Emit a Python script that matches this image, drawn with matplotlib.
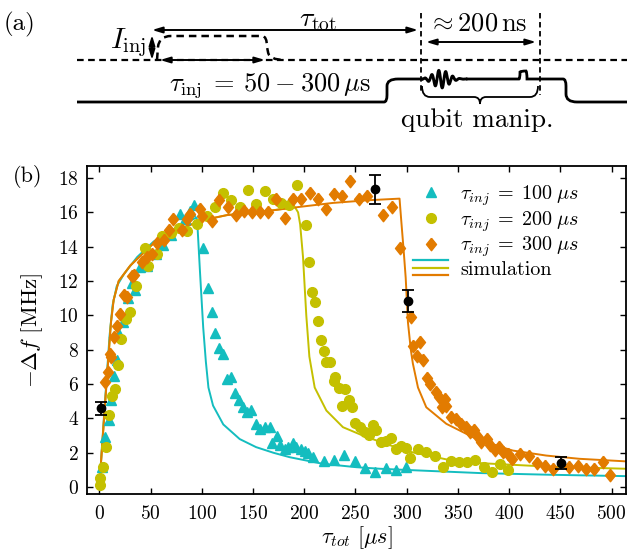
import numpy as np
import matplotlib
matplotlib.use("Agg")
import matplotlib.pyplot as plt
from matplotlib.path import Path
from matplotlib.patches import PathPatch
from matplotlib.lines import Line2D
from matplotlib.legend_handler import HandlerBase

plt.rcParams["font.family"] = "serif"
plt.rcParams["font.serif"] = ["cmr10"]
plt.rcParams["mathtext.fontset"] = "cm"
plt.rcParams["axes.formatter.use_mathtext"] = True

CYAN = "#14bdbf"
YELLOW = "#c4c000"
ORANGE = "#e27b00"
DIAMOND = [(0, 1), (0.8, 0), (0, -1), (-0.8, 0), (0, 1)]

# measured frequency shift, tau_inj = 100 us
t100 = [2.6, 5.8, 9.2, 11.4, 14.6, 17.3, 19.5, 23.4, 28.3, 31.6, 34.8, 40, 47, 55, 62, 70, 78.7, 84, 88.4, 92,
        101.4, 105.6, 109.5, 112.8, 116.9, 120.9, 124.8, 129, 132.9, 136.5, 140.4, 144.3, 148.5, 153.4, 157.3,
        161.5, 166.4, 169, 173.5, 176.1, 181, 184.2, 189, 192.4, 197.3, 200.5, 203.7, 208.6, 219.3, 229, 238.8,
        249.2, 259, 268.7, 279.4, 289.2, 299]
df100 = [1.2, 2.9, 3.9, 5.1, 6.5, 7.4, 8.9, 9.6, 11.0, 11.9, 11.5, 12.8, 12.9, 13.6, 14.1, 14.7, 15.9, 15.6, 16.1, 16.4,
         13.9, 11.6, 10.2, 8.95, 8.1, 7.75, 6.3, 6.4, 5.5, 5.1, 4.65, 4.36, 4.5, 3.7, 3.4,
         3.5, 3.5, 2.56, 3.0, 2.46, 2.23, 2.33, 2.56, 2.33, 2.23, 2.1, 1.98, 1.78, 1.55, 1.6, 1.88,
         1.55, 1.13, 0.87, 1.1, 1.0, 1.15]

# tau_inj = 200 us
t200 = [0.4, 0.4, 3.3, 6.8, 9.7, 12.4, 15.6, 18.2, 21.4, 26.3, 29.6, 36, 44.8, 48, 56.2, 61.1, 70, 77.4, 85.5, 95.2,
        105.3, 112.8, 120.9, 129, 137.1, 145.2, 153.4, 161.5, 169.6, 177.8, 185.2, 193, 201.5, 204.4, 207.6, 210.2,
        213.5, 216.8, 219.3, 221.6, 224.8, 229, 230.4, 233.9, 237.2, 239.5, 243.4, 246.6, 249.2, 254.1, 259, 262.9,
        267.1, 270.4, 275.2, 280.1, 285, 289.9, 294.7, 299.6, 302.8, 311, 319.1, 327.2, 335.3, 342.8, 351, 358.7,
        366.8, 375.2, 383, 391.2, 399.3]
df200 = [0.14, 0.55, 1.16, 2.33, 4.2, 5.3, 5.7, 7.1, 8.6, 9.8, 10.2, 11.7, 13.9, 12.9, 13.6, 14.6, 14.8, 15.1, 14.9, 15.3,
         15.8, 16.3, 17.1, 16.7, 16.3, 17.3, 16.5, 17.25, 16.8, 16.55, 16.4, 17.6, 15.25, 13.1, 11.35, 10.8,
         9.65, 8.57, 7.95, 7.3, 7.3, 6.2, 6.4, 5.75, 4.7, 5.7, 5.1, 4.65, 3.72, 3.53, 3.2, 3.06,
         3.6, 3.3, 2.6, 2.7, 2.85, 2.23, 2.37, 2.29, 1.71, 2.23, 2.03, 1.84, 1.16, 1.55, 1.45, 1.45,
         1.6, 1.16, 0.87, 1.36, 0.97]

# tau_inj = 300 us
t300 = [5.2, 8.2, 10.4, 11.4, 14.6, 17.3, 20.5, 23.8, 27.1, 31.6, 33.5, 41.6, 46.5, 51.4, 56.2, 62.8, 67.6, 71.8,
        80.6, 85.5, 88.7, 98.4, 100.1, 109.8, 117.3, 126, 133.2, 141, 149.5, 157.3, 165.1, 172.9, 181, 189, 197.3,
        205.4, 213.5, 221, 229, 237.2, 245, 253.4, 261.2, 276.8, 285.6, 293, 304.5, 306, 309.9, 313.2, 315.8,
        319.7, 322.3, 328.8, 331.4, 334.7, 336.9, 338.6, 343.5, 347.7, 353.2, 357.4, 361.3, 365.2, 369.4, 372.7,
        378.2, 380.8, 385.7, 390.5, 393.8, 398.6, 402.9, 410.7, 419.1, 426.9, 435.1, 442.5, 458.8, 466.9, 475.1,
        483.2, 491.3, 498.4]
df300 = [6.15, 6.7, 7.75, 7.6, 8.76, 9.4, 10.1, 11.2, 11.1, 12.3, 12.35, 13.1, 13.4, 13.6, 14.2, 14.4, 15.0, 15.6,
         15.0, 15.6, 15.9, 16.2, 15.8, 15.5, 16.7, 16.3, 15.85, 16.1, 16.05, 16.05, 16.05, 16.8, 15.65, 16.8, 16.8,
         17.1, 16.8, 16.2, 17.05, 16.95, 17.8, 16.8, 16.95, 15.85, 16.3, 13.9, 9.9, 8.24, 7.66, 8.43, 7.4,
         6.36, 6.0, 5.52, 5.23, 4.65, 5.14, 4.75, 4.1, 3.98, 3.69, 3.53, 3.2, 3.3, 2.9, 2.62,
         2.81, 2.48, 2.17, 2.33, 2.03, 1.94, 1.65, 1.94, 1.8, 1.4, 1.22, 1.03, 1.16, 1.22, 1.03,
         1.03, 1.45, 0.68]

# representative points with error bars
t_err = [2, 269.4, 301.2, 450.7]
df_err = [4.6, 17.35, 10.85, 1.42]
err = [0.38, 0.85, 0.65, 0.34]

# simulated curves
tsim100 = [0, 5, 10, 13, 17, 24, 37, 53, 72, 86, 95, 96, 98.3, 101.4, 104, 106.5, 111, 121, 137, 153, 170, 186,
           218, 251, 274, 300, 371, 440, 514]
sim100 = [0, 4.5, 8.8, 10.6, 11.7, 12.4, 13.4, 14.3, 15.0, 15.45, 15.7, 15.0, 12.5, 9.3, 7.3, 5.8, 4.75, 3.65, 2.8,
          2.33, 2.0, 1.74, 1.36, 1.16, 1.07, 1.0, 0.82, 0.72, 0.64]
tsim200 = [0, 5.8, 11.4, 14, 18.9, 30.2, 53, 79, 101.7, 124.5, 163, 191, 194, 196, 198.8, 202, 205, 210.2, 221.6,
           237.8, 257.3, 273.6, 300, 340, 371, 436, 514]
sim200 = [0, 5.0, 9.6, 10.9, 12.0, 12.9, 14.2, 15.06, 15.55, 15.84, 16.07, 16.3, 16.0, 15.3, 13.4, 10.0, 7.6, 5.8,
          4.46, 3.49, 3.0, 2.65, 2.1, 1.6, 1.4, 1.2, 1.07]
tsim300 = [0, 5.8, 11.4, 14, 18.9, 30.2, 53, 79, 101.7, 124.5, 163, 195.6, 228, 260.6, 293, 294.7, 297, 299, 301.2,
           304, 306, 311, 319.1, 338.6, 371, 403.5, 436, 468.5, 514]
sim300 = [0, 5.0, 9.6, 10.9, 12.0, 12.9, 14.2, 15.06, 15.55, 15.84, 16.07, 16.32, 16.55, 16.7, 16.8, 15.5, 13.8,
          12.2, 9.6, 8.0, 7.2, 5.8, 4.65, 3.69, 2.72, 2.13, 1.84, 1.65, 1.5]

fig = plt.figure(figsize=(6.27, 5.5), dpi=100)

# ---------- (a) pulse sequence sketch, drawn in pixel units ----------
sk = fig.add_axes([0, 0, 1, 1], zorder=0)
sk.set_xlim(0, 627)
sk.set_ylim(550, 0)
sk.axis("off")

dash = (0, (3, 2))
sk.plot([77, 627], [60, 60], color="k", lw=1.6, ls=dash)
sk.plot([421, 421], [13, 92], color="k", lw=1.3, ls=dash)
sk.plot([540, 540], [13, 95], color="k", lw=1.3, ls=dash)

# injection current pulse (dashed)
verts = [(157, 60), (158, 47), (159, 36), (171, 36), (262, 36), (267, 36), (267, 47), (268, 52), (269, 60),
         (285, 60)]
codes = [Path.MOVETO, Path.LINETO, Path.CURVE3, Path.CURVE3, Path.LINETO, Path.CURVE3, Path.CURVE3, Path.LINETO,
         Path.CURVE3, Path.CURVE3]
sk.add_patch(PathPatch(Path(verts, codes), fill=False, lw=1.8, ls=dash, ec="k"))

# qubit drive line with oscillating manipulation pulse
hi, lo = 79, 102
left = Path([(77, lo), (384, lo), (387, lo), (387, 95), (387, 86), (387, hi), (398, hi), (423, hi)],
            [Path.MOVETO, Path.LINETO, Path.CURVE3, Path.CURVE3, Path.LINETO, Path.CURVE3, Path.CURVE3,
             Path.LINETO])
sk.add_patch(PathPatch(left, fill=False, lw=2, ec="k"))
xw = np.linspace(423, 466, 300)
yw = hi - 9 * np.exp(-((xw - 441) / 11) ** 2) * np.sin(2 * np.pi * (xw - 423) / 7)
sk.plot(xw, yw, color="k", lw=2.1)
right = Path([(466, hi), (519, hi), (520, hi), (520, 72), (521, 71), (526, 71), (527, 72), (527, hi), (528, hi),
              (563, hi), (566, hi), (566, 86), (566, 94), (566, lo), (577, lo), (627, lo)],
             [Path.MOVETO, Path.LINETO, Path.CURVE3, Path.CURVE3, Path.CURVE3, Path.LINETO, Path.CURVE3,
              Path.CURVE3, Path.CURVE3, Path.LINETO, Path.CURVE3, Path.CURVE3, Path.LINETO, Path.CURVE3,
              Path.CURVE3, Path.LINETO])
sk.add_patch(PathPatch(right, fill=False, lw=2, ec="k"))

# curly brace under the manipulation window
brace = Path([(422, 86), (422, 97), (430, 97), (474, 97), (480, 97), (480, 104), (480, 97), (486, 97), (530, 97),
              (538, 97), (538, 86)],
             [Path.MOVETO, Path.CURVE3, Path.CURVE3, Path.LINETO, Path.CURVE3, Path.CURVE3, Path.CURVE3,
              Path.CURVE3, Path.LINETO, Path.CURVE3, Path.CURVE3])
sk.add_patch(PathPatch(brace, fill=False, lw=1.3, ec="k"))

arrow = dict(arrowstyle="<|-|>,head_length=0.6,head_width=0.18", lw=1.4, color="k", shrinkA=0, shrinkB=0)
sk.annotate("", xy=(418, 30), xytext=(152, 30), arrowprops=arrow)
sk.annotate("", xy=(536, 42), xytext=(426, 42), arrowprops=arrow)
sk.annotate("", xy=(265, 60), xytext=(160, 60), arrowprops=arrow)
sk.annotate("", xy=(152, 35), xytext=(152, 60), arrowprops=arrow)

sk.text(20, 24, "(a)", fontsize=18, ha="center", va="center")
sk.text(318, 20, r"$\tau_{\rm tot}$", fontsize=20, ha="center", va="center")
sk.text(478, 24, r"$\approx 200\,{\rm ns}$", fontsize=19, ha="center", va="center")
sk.text(146, 43, r"$I_{\rm inj}$", fontsize=21, ha="right", va="center")
sk.text(270, 86, r"$\tau_{\rm inj}\:=\:50\:-\:300\,\mu{\rm s}$", fontsize=19, ha="center", va="center")
sk.text(477, 120, "qubit manip.", fontsize=19.5, ha="center", va="center")

# ---------- (b) frequency shift vs total time ----------
ax = fig.add_axes([87 / 627, 1 - 494 / 550, 539 / 627, 328 / 550], zorder=1)
ax.plot(tsim100, sim100, color=CYAN, lw=1.4, zorder=2)
ax.plot(tsim200, sim200, color=YELLOW, lw=1.4, zorder=2)
ax.plot(tsim300, sim300, color=ORANGE, lw=1.4, zorder=2)
ax.plot(t100, df100, ls="none", marker="^", ms=7.5, color=CYAN, zorder=3)
ax.plot(t200, df200, ls="none", marker="o", ms=7, color=YELLOW, zorder=3)
ax.plot(t300, df300, ls="none", marker=DIAMOND, ms=9, color=ORANGE, zorder=3)
ax.errorbar(t_err, df_err, yerr=err, fmt="o", color="k", ms=6, capsize=4, elinewidth=1.3, capthick=1.3, zorder=5)

ax.set_xlim(-12, 514)
ax.set_ylim(-0.4, 18.7)
ax.set_xticks(np.arange(0, 501, 50))
ax.set_yticks(np.arange(0, 19, 2))
ax.tick_params(direction="in", top=True, right=True, length=4.5, width=1, labelsize=14)
ax.tick_params(axis="x", pad=8)
ax.tick_params(axis="y", pad=6)
for s in ax.spines.values():
    s.set_linewidth(1.3)
ax.set_xlabel(r"$\tau_{tot}\ [\mu s]$", fontsize=16, labelpad=1)
ax.set_ylabel(r"$-\Delta f\ [\mathrm{MHz}]$", fontsize=16.5, labelpad=9)
fig.text(28 / 627, 1 - 176 / 550, "(b)", fontsize=16, ha="center", va="center")


class StackedLines(HandlerBase):
    def __init__(self, colors, **kw):
        super().__init__(**kw)
        self.colors = colors

    def create_artists(self, legend, orig_handle, xdescent, ydescent, width, height, fontsize, trans):
        out = []
        for i, c in enumerate(self.colors):
            y = -ydescent + height / 2 + (0.55 - 0.55 * i) * height
            out.append(Line2D([-xdescent, width - xdescent], [y, y], color=c, lw=1.6, transform=trans))
        return out


h100 = Line2D([], [], ls="none", marker="^", ms=7.5, color=CYAN)
h200 = Line2D([], [], ls="none", marker="o", ms=7, color=YELLOW)
h300 = Line2D([], [], ls="none", marker=DIAMOND, ms=9, color=ORANGE)
hsim = Line2D([], [], color="k")
labels = [r"$\tau_{inj}\;=\;100\;\mu s$", r"$\tau_{inj}\;=\;200\;\mu s$", r"$\tau_{inj}\;=\;300\;\mu s$",
          "simulation"]
ax.legend([h100, h200, h300, hsim], labels, handler_map={hsim: StackedLines([CYAN, YELLOW, ORANGE])},
          loc="upper left", bbox_to_anchor=(0.605, 0.948), frameon=False, fontsize=14.5, handlelength=1.75,
          handletextpad=0.6, labelspacing=0.06, borderpad=0, borderaxespad=0)

fig.savefig("out.png", dpi=100)
